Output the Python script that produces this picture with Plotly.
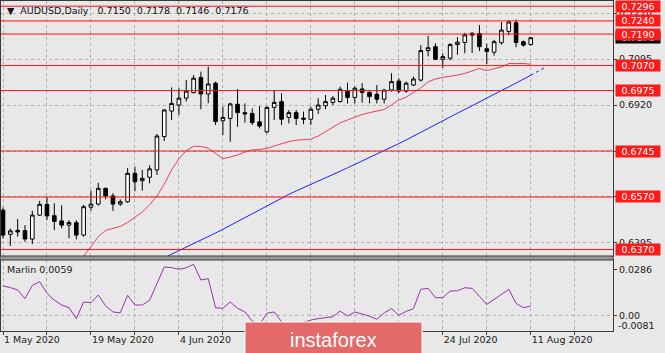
import plotly.graph_objects as go
import pandas as pd

# ---------------- data ----------------
dates = pd.bdate_range("2020-05-01", "2020-08-11")  # 73 daily bars

opens = [0.6520, 0.6428, 0.6443, 0.6442, 0.6410, 0.6501, 0.6542, 0.6499, 0.6479, 0.6463,
         0.6472, 0.6425, 0.6531, 0.6543, 0.6603, 0.6574, 0.6543, 0.6552, 0.6660, 0.6632,
         0.6645, 0.6673, 0.6800, 0.6897, 0.6920, 0.6946, 0.6967, 0.7025, 0.6962, 0.7003,
         0.6860, 0.6869, 0.6923, 0.6891, 0.6888, 0.6856, 0.6818, 0.6911, 0.6933, 0.6873,
         0.6891, 0.6870, 0.6866, 0.6904, 0.6917, 0.6930, 0.6933, 0.6974, 0.6949, 0.6981,
         0.6968, 0.6961, 0.6942, 0.6977, 0.7011, 0.6973, 0.6996, 0.7015, 0.7127, 0.7142,
         0.7094, 0.7098, 0.7150, 0.7158, 0.7193, 0.7192, 0.7134, 0.7121, 0.7157, 0.7200,
         0.7233, 0.7161, 0.7150]
highs = [0.6530, 0.6450, 0.6486, 0.6463, 0.6518, 0.6555, 0.6571, 0.6546, 0.6538, 0.6482,
         0.6482, 0.6540, 0.6595, 0.6624, 0.6605, 0.6584, 0.6561, 0.6680, 0.6685, 0.6673,
         0.6690, 0.6810, 0.6905, 0.6987, 0.6984, 0.7015, 0.7034, 0.7047, 0.7066, 0.7009,
         0.6914, 0.6929, 0.6981, 0.6926, 0.6907, 0.6916, 0.6915, 0.6977, 0.6965, 0.6901,
         0.6901, 0.6895, 0.6914, 0.6946, 0.6958, 0.6954, 0.6990, 0.7005, 0.6990, 0.7003,
         0.6974, 0.6996, 0.6980, 0.7041, 0.7022, 0.7009, 0.7028, 0.7148, 0.7183, 0.7155,
         0.7117, 0.7155, 0.7178, 0.7195, 0.7197, 0.7224, 0.7153, 0.7168, 0.7236, 0.7242,
         0.7245, 0.7165, 0.7178]
lows = [0.6412, 0.6384, 0.6419, 0.6400, 0.6391, 0.6498, 0.6482, 0.6444, 0.6451, 0.6413,
        0.6409, 0.6419, 0.6518, 0.6537, 0.6561, 0.6517, 0.6536, 0.6548, 0.6592, 0.6594,
        0.6622, 0.6654, 0.6783, 0.6863, 0.6882, 0.6933, 0.6965, 0.6904, 0.6927, 0.6844,
        0.6806, 0.6780, 0.6837, 0.6853, 0.6844, 0.6831, 0.6812, 0.6863, 0.6844, 0.6850,
        0.6844, 0.6847, 0.6844, 0.6886, 0.6904, 0.6920, 0.6929, 0.6926, 0.6926, 0.6929,
        0.6926, 0.6926, 0.6926, 0.6971, 0.6965, 0.6967, 0.6992, 0.7009, 0.7105, 0.7091,
        0.7062, 0.7090, 0.7111, 0.7117, 0.7118, 0.7125, 0.7075, 0.7108, 0.7150, 0.7185,
        0.7140, 0.7142, 0.7146]
closes = [0.6425, 0.6441, 0.6437, 0.6410, 0.6501, 0.6542, 0.6498, 0.6477, 0.6463, 0.6473,
          0.6425, 0.6533, 0.6543, 0.6603, 0.6574, 0.6543, 0.6552, 0.6660, 0.6628, 0.6641,
          0.6677, 0.6802, 0.6901, 0.6926, 0.6946, 0.6973, 0.7022, 0.6962, 0.7000, 0.6857,
          0.6873, 0.6924, 0.6891, 0.6886, 0.6853, 0.6840, 0.6911, 0.6930, 0.6866, 0.6891,
          0.6869, 0.6866, 0.6904, 0.6920, 0.6933, 0.6946, 0.6980, 0.6949, 0.6984, 0.6968,
          0.6952, 0.6942, 0.6977, 0.7009, 0.6973, 0.7003, 0.7019, 0.7127, 0.7138, 0.7094,
          0.7104, 0.7150, 0.7159, 0.7187, 0.7186, 0.7142, 0.7124, 0.7161, 0.7205, 0.7236,
          0.7158, 0.7148, 0.7176]

ma_red = [None] * 10 + [
    0.6315, 0.6345, 0.6381, 0.6419, 0.6443, 0.6451, 0.6458, 0.6473, 0.6494, 0.6513,
    0.6540, 0.6574, 0.6619, 0.6673, 0.6715, 0.6747, 0.6763, 0.6762, 0.6756, 0.6737,
    0.6716, 0.6722, 0.6730, 0.6741, 0.6749, 0.6751, 0.6755, 0.6764, 0.6772, 0.6781,
    0.6786, 0.6788, 0.6790, 0.6802, 0.6819, 0.6834, 0.6852, 0.6863, 0.6874, 0.6884,
    0.6891, 0.6897, 0.6903, 0.6920, 0.6939, 0.6950, 0.6966, 0.6985, 0.7008, 0.7019,
    0.7025, 0.7029, 0.7034, 0.7040, 0.7049, 0.7059, 0.7051, 0.7057, 0.7065, 0.7078,
    0.7079, 0.7078, 0.7075]

ma_blue = [None] * 22 + [
    0.6339, 0.6352, 0.6366, 0.6379, 0.6392, 0.6406, 0.6419, 0.6433, 0.6447, 0.6462,
    0.6477, 0.6492, 0.6507, 0.6522, 0.6537, 0.6552, 0.6567, 0.6580, 0.6593, 0.6605,
    0.6618, 0.6630, 0.6643, 0.6656, 0.6668, 0.6681, 0.6694, 0.6706, 0.6719, 0.6731,
    0.6744, 0.6758, 0.6773, 0.6787, 0.6802, 0.6816, 0.6831, 0.6845, 0.6860, 0.6874,
    0.6889, 0.6903, 0.6918, 0.6932, 0.6946, 0.6961, 0.6975, 0.6989, 0.7004, 0.7018,
    0.7033]
blue_proj_bars = [72, 73, 74]
blue_proj = [0.7033, 0.7049, 0.7064]

marlin = [0.0185, 0.0175, 0.0160, 0.0105, 0.0189, 0.0212, 0.0139, 0.0095, 0.0065, 0.0048,
          -0.0021, 0.0084, 0.0080, 0.0128, 0.0060, 0.0021, 0.0016, 0.0126, 0.0065, 0.0065,
          0.0095, 0.0200, 0.0305, 0.0301, 0.0290, 0.0300, 0.0322, 0.0223, 0.0231, 0.0048,
          0.0044, 0.0084, 0.0045, 0.0021, -0.0036, -0.0060, 0.0013, 0.0021, -0.0040, -0.0070,
          -0.0060, -0.0045, -0.0030, -0.0021, -0.0015, -0.0009, 0.0027, -0.0004, 0.0021, 0.0010,
          -0.0005, -0.0025, 0.0015, 0.0042, 0.0000, 0.0025, 0.0042, 0.0164, 0.0170, 0.0111,
          0.0111, 0.0153, 0.0155, 0.0174, 0.0170, 0.0120, 0.0069, 0.0100, 0.0132, 0.0164,
          0.0075, 0.0048, 0.0059]

levels = [0.7296, 0.7240, 0.7190, 0.7070, 0.6975, 0.6745, 0.6570, 0.6370]
price_ticks = [0.6395, 0.6570, 0.6745, 0.6920, 0.7095, 0.7270]
osc_ticks = [0.0286, 0.0]
osc_ticktext = ["0.0286", "0.00"]
osc_min_label = "-0.0081"
header = "AUDUSD,Daily"
ohlc_text = ["0.7150", "0.7178", "0.7146", "0.7176"]
indicator_name = "Marlin"
watermark = "instaforex"

# ---------------- geometry ----------------
W, H = 665, 353
ML, MR, MT, MB = 1, 52, 1, 22
PW = W - ML - MR
PH = H - MT - MB
BAR0_PX, BAR_PX = 3, 7.33          # pixel of first bar, pixels per bar
WM_X0, WM_X1, WM_Y0 = 245, 422, 322  # watermark box (pixels)


def px_x(px):
    return (px - ML) / PW


def px_y(py):
    return (H - MB - py) / PH


bars = list(range(len(dates)))
FONT = "DejaVu Sans"
FS = 9.5
GRID = "#b0b0b0"
BORDER = "#3a3a3a"

fig = go.Figure()

fig.add_trace(go.Candlestick(
    x=bars, open=opens, high=highs, low=lows, close=closes,
    xaxis="x", yaxis="y",
    increasing=dict(line=dict(color="black", width=1), fillcolor="white"),
    decreasing=dict(line=dict(color="black", width=1), fillcolor="black"),
    whiskerwidth=0, showlegend=False, hoverinfo="skip"))

fig.add_trace(go.Scatter(x=bars, y=ma_red, mode="lines", xaxis="x", yaxis="y",
                         line=dict(color="#e3415f", width=1), showlegend=False,
                         hoverinfo="skip"))
fig.add_trace(go.Scatter(x=bars, y=ma_blue, mode="lines", xaxis="x", yaxis="y",
                         line=dict(color="#2020f0", width=1), showlegend=False,
                         hoverinfo="skip"))
fig.add_trace(go.Scatter(x=blue_proj_bars, y=blue_proj, mode="lines", xaxis="x", yaxis="y",
                         line=dict(color="#2020f0", width=1, dash="3px,3px"),
                         showlegend=False, hoverinfo="skip"))

fig.add_trace(go.Scatter(x=bars, y=marlin, mode="lines", xaxis="x2", yaxis="y2",
                         line=dict(color="#9a2fb0", width=1), showlegend=False,
                         hoverinfo="skip"))

# x ticks: grid every 6 bars, labels every 12 bars (those under the watermark are hidden)
xr = [(ML - BAR0_PX) / BAR_PX, (ML + PW - BAR0_PX) / BAR_PX]
xt = list(range(0, 84, 6))
xtt = []
for k in xt:
    kpx = BAR0_PX + BAR_PX * k
    hidden = WM_X0 - 60 < kpx < WM_X1
    if k % 12 == 0 and k < len(dates) and not hidden:
        d = dates[k]
        xtt.append(f"{d.day} {d.strftime('%b %Y')}")
    else:
        xtt.append("")

# price tick labels that sit under a level label are hidden by it
ytt = ["" if any(abs(v - lv) < 1e-6 for lv in levels) else f"{v:.4f}" for v in price_ticks]

main_dom = [px_y(256), 1]
osc_dom = [0, px_y(260)]
y_lo = 0.6745 - (256 - 151) / 2628
y_hi = 0.6745 + (151 - 1) / 2628

axis_common = dict(showline=True, linecolor=BORDER, linewidth=1, mirror=True,
                   zeroline=False)

fig.update_layout(
    width=W, height=H,
    margin=dict(l=ML, r=MR, t=MT, b=MB),
    paper_bgcolor="#e8e8e8", plot_bgcolor="#e8e8e8",
    font=dict(family=FONT, size=FS, color="#1a1a1a"),
    showlegend=False,
    xaxis=dict(domain=[0, 1], anchor="y", range=xr, tickvals=xt, showticklabels=False,
               showgrid=True, gridcolor=GRID, griddash="3px,3px", gridwidth=1,
               rangeslider=dict(visible=False), ticks="", **axis_common),
    xaxis2=dict(domain=[0, 1], anchor="y2", matches="x", range=xr, tickvals=xt,
                ticktext=xtt, ticks="outside", ticklen=3, tickcolor=BORDER,
                ticklabelposition="outside right",
                tickfont=dict(family=FONT, size=FS, color="#1a1a1a"),
                showgrid=True, gridcolor=GRID, griddash="3px,3px", gridwidth=1,
                rangeslider=dict(visible=False), **axis_common),
    yaxis=dict(domain=main_dom, anchor="x", side="right", range=[y_lo, y_hi],
               tickvals=price_ticks, ticktext=ytt,
               ticks="outside", ticklen=3, tickcolor=BORDER,
               showgrid=True, gridcolor=GRID, griddash="3px,3px", gridwidth=1,
               tickfont=dict(family=FONT, size=FS, color="#1a1a1a"), **axis_common),
    yaxis2=dict(domain=osc_dom, anchor="x2", side="right", range=[-0.0099, 0.0349],
                tickvals=osc_ticks, ticktext=osc_ticktext, ticks="outside", ticklen=3,
                tickcolor=BORDER, showgrid=False,
                tickfont=dict(family=FONT, size=FS, color="#1a1a1a"), **axis_common),
)

shapes = []
# horizontal level lines
for lv in levels:
    shapes.append(dict(type="line", xref="x domain", yref="y", x0=0, x1=1, y0=lv, y1=lv,
                       line=dict(color="#ff1010", width=1), layer="above"))
# zero line in oscillator
shapes.append(dict(type="line", xref="x2 domain", yref="y2", x0=0, x1=1, y0=0, y1=0,
                   line=dict(color=GRID, width=1, dash="3px,3px"), layer="below"))
# separator band between panels
shapes.append(dict(type="rect", xref="paper", yref="paper", x0=px_x(0), x1=px_x(ML + PW),
                   y0=px_y(260), y1=px_y(256), fillcolor="#9a9a9a",
                   line=dict(color=BORDER, width=1), layer="above"))
# watermark box
shapes.append(dict(type="rect", xref="paper", yref="paper", x0=px_x(WM_X0), x1=px_x(WM_X1),
                   y0=px_y(356), y1=px_y(WM_Y0), fillcolor="#e46a6a",
                   line=dict(color="white", width=1), layer="above"))

annotations = []
# current price (black) label, then red level labels
annotations.append(dict(xref="paper", yref="y", x=1, y=closes[-1], xanchor="left",
                        yanchor="middle", xshift=2, text=f"{closes[-1]:.4f}",
                        showarrow=False, bgcolor="black",
                        font=dict(color="white", family=FONT, size=FS),
                        width=44, height=11, borderpad=0))
for lv in levels:
    annotations.append(dict(xref="paper", yref="y", x=1, y=lv, xanchor="left",
                            yanchor="middle", xshift=2,
                            text=f"{lv:.4f}", showarrow=False, bgcolor="#ff1a1a",
                            font=dict(color="white", family=FONT, size=FS),
                            width=44, height=11, borderpad=0))
# oscillator min label
annotations.append(dict(xref="paper", yref="paper", x=1, y=px_y(325), xanchor="left",
                        yanchor="middle", xshift=3, text=osc_min_label, showarrow=False,
                        font=dict(family=FONT, size=FS, color="#1a1a1a")))
# header
nb = "\u00a0"
annotations.append(dict(xref="paper", yref="paper", x=px_x(5), y=px_y(11), xanchor="left",
                        yanchor="middle", showarrow=False,
                        text="\u25bc" + nb * 2 + header + nb * 3 + (nb * 2).join(ohlc_text),
                        font=dict(family=FONT, size=FS, color="#111111")))
annotations.append(dict(xref="paper", yref="paper", x=px_x(5), y=px_y(269), xanchor="left",
                        yanchor="middle", showarrow=False,
                        text=f"{indicator_name} {marlin[-1]:.4f}",
                        font=dict(family=FONT, size=FS, color="#1a1a1a")))
# watermark text
annotations.append(dict(xref="paper", yref="paper", x=px_x((WM_X0 + WM_X1) / 2),
                        y=px_y(340), xanchor="center", yanchor="middle", showarrow=False,
                        text=watermark,
                        font=dict(family="Liberation Sans", size=20, color="white")))

fig.update_layout(shapes=shapes, annotations=annotations)

fig.write_html("out.html", config={"displayModeBar": False})
